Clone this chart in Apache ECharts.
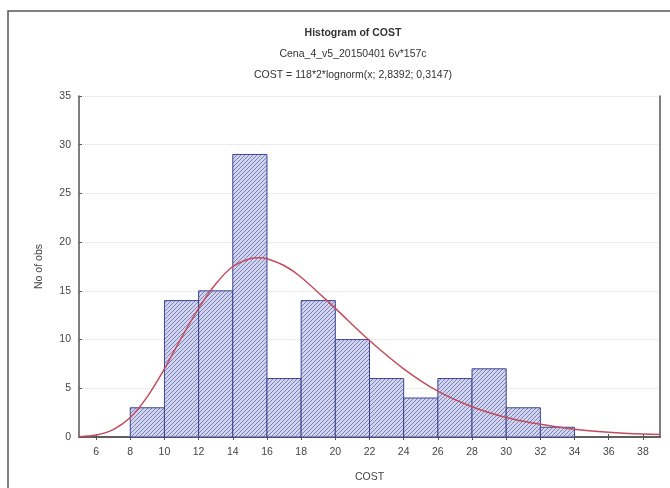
<!DOCTYPE html>
<html>
<head>
<meta charset="utf-8">
<script src="https://cdn.jsdelivr.net/npm/echarts@6/dist/echarts.min.js"></script>
<style>
  html, body { margin: 0; padding: 0; background: #fff; }
  #chart { width: 670px; height: 488px; }
</style>
</head>
<body>
<div id="chart"></div>
<script>
// histogram bins (lower edge, width 2) and counts
var binStarts = [8, 10, 12, 14, 16, 18, 20, 22, 24, 26, 28, 30, 32];
var binCounts = [3, 14, 15, 29, 6, 14, 10, 6, 4, 6, 7, 3, 1];
var binWidth = 2;

// fitted curve
var curveX = [5, 6, 7, 8, 9, 10, 11, 12, 13, 14, 15, 15.5, 16, 17, 18, 20, 22, 24, 26, 28, 30, 32, 34, 36, 38, 39];
var curveY = [0.03, 0.2, 0.76, 2.0, 4.15, 7.0, 10.2, 13.2, 15.7, 17.5, 18.3, 18.4, 18.3, 17.6, 16.4, 13.2, 9.9, 7.0, 4.7, 3.1, 2.0, 1.3, 0.8, 0.5, 0.3, 0.25];

var xTicks = [6, 8, 10, 12, 14, 16, 18, 20, 22, 24, 26, 28, 30, 32, 34, 36, 38];

var titleLines = [
  "Histogram of COST",
  "Cena_4_v5_20150401 6v*157c",
  "COST = 118*2*lognorm(x; 2,8392; 0,3147)"
];

// hatch pattern for the bars
var hatch = document.createElement("canvas");
hatch.width = 4;
hatch.height = 4;
var hc = hatch.getContext("2d");
hc.fillStyle = "#d0d4ef";
hc.fillRect(0, 0, 4, 4);
hc.strokeStyle = "#7d83b6";
hc.lineWidth = 1;
hc.beginPath();
hc.moveTo(0, 4); hc.lineTo(4, 0);
hc.moveTo(-1, 1); hc.lineTo(1, -1);
hc.moveTo(3, 5); hc.lineTo(5, 3);
hc.stroke();

var barData = binStarts.map(function (s, i) { return [s, s + binWidth, binCounts[i]]; });
var lineData = curveX.map(function (x, i) { return [x, curveY[i]]; });

var font = "Liberation Sans";
var axisColor = "#555";

var myChart = echarts.init(document.getElementById("chart"));
var option = {
  animation: false,
  title: titleLines.map(function (t, i) {
    return {
      text: t,
      left: 348,
      top: [23, 44, 65][i],
      textAlign: "center",
      textStyle: {
        fontFamily: font,
        fontSize: 10.5,
        fontWeight: i === 0 ? "bold" : "normal",
        color: "#333"
      }
    };
  }),
  graphic: [
    {
      type: "rect",
      shape: { x: 8, y: 11, width: 700, height: 520 },
      style: { fill: "none", stroke: "#555", lineWidth: 1.5 },
      silent: true
    }
  ],
  grid: { left: 79, top: 96, right: 10, bottom: 51 },
  xAxis: [
    {
      type: "value",
      min: 5,
      max: 39,
      name: "COST",
      nameLocation: "middle",
      nameGap: 35,
      nameTextStyle: { fontFamily: font, fontSize: 10.5, color: "#444" },
      axisLine: { lineStyle: { color: axisColor, width: 1.5 } },
      axisTick: { inside: true, length: 3, customValues: xTicks, lineStyle: { color: axisColor } },
      axisLabel: { customValues: xTicks, fontFamily: font, fontSize: 10.5, color: "#444", margin: 10 },
      splitLine: { show: false }
    },
    {
      type: "value",
      position: "top",
      min: 5,
      max: 39,
      axisLine: { show: true, lineStyle: { color: axisColor, width: 1.5 } },
      axisTick: { inside: true, length: 3, customValues: xTicks, lineStyle: { color: axisColor } },
      axisLabel: { show: false },
      splitLine: { show: false }
    }
  ],
  yAxis: [
    {
      type: "value",
      min: 0,
      max: 35,
      interval: 5,
      name: "No of obs",
      nameLocation: "middle",
      nameGap: 34,
      nameTextStyle: { fontFamily: font, fontSize: 10.5, color: "#444" },
      axisLine: { show: true, lineStyle: { color: axisColor, width: 1.5 } },
      axisTick: { show: true, inside: true, length: 3, lineStyle: { color: axisColor } },
      axisLabel: { fontFamily: font, fontSize: 10.5, color: "#444", margin: 8 },
      splitLine: { show: true, lineStyle: { color: "#dcdcdc", type: "dotted" } }
    },
    {
      type: "value",
      position: "right",
      min: 0,
      max: 35,
      interval: 5,
      axisLine: { show: true, lineStyle: { color: axisColor, width: 1.5 } },
      axisTick: { show: false },
      axisLabel: { show: false },
      splitLine: { show: false }
    }
  ],
  series: [
    {
      type: "custom",
      data: barData,
      encode: { x: [0, 1], y: 2 },
      renderItem: function (params, api) {
        var p0 = api.coord([api.value(0), api.value(2)]);
        var p1 = api.coord([api.value(1), 0]);
        return {
          type: "rect",
          shape: { x: p0[0], y: p0[1], width: p1[0] - p0[0], height: p1[1] - p0[1] },
          style: {
            fill: { image: hatch, repeat: "repeat" },
            stroke: "#3d4490",
            lineWidth: 1
          }
        };
      },
      z: 2
    },
    {
      type: "line",
      data: lineData,
      smooth: 0.3,
      showSymbol: false,
      lineStyle: { color: "#c24b5e", width: 1.5 },
      z: 3
    }
  ]
};
myChart.setOption(option);
window.addEventListener("resize", function () {
  myChart.resize();
});
</script>
</body>
</html>
